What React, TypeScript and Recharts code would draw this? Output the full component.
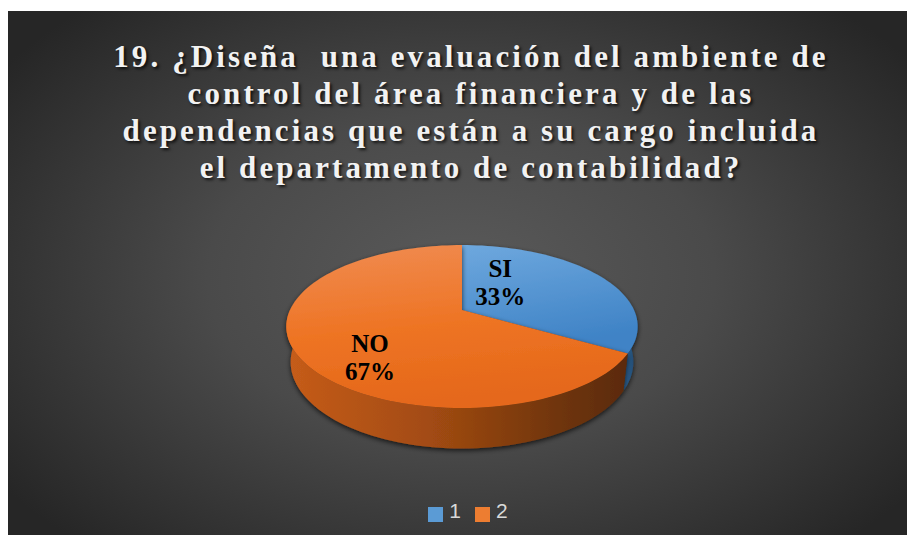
import { PieChart, Pie, Cell, Legend } from "recharts";

const categories = ["1", "2"];
const answers = ["SI", "NO"];
const values = [1, 2];
const percentLabels = ["33%", "67%"];

const titleLines = [
  "19. ¿Diseña  una evaluación del ambiente de",
  "control del área financiera y de las",
  "dependencias que están a su cargo incluida",
  "el departamento de contabilidad?",
];

const colors = ["#5b9bd5", "#ed7d31"];

const data = categories.map((c, i) => ({ cat: c, answer: answers[i], value: values[i], pct: percentLabels[i] }));

// 3d view of the pie: tilt, camera distance, thickness
const TILT = (27 * Math.PI) / 180;
const DIST = 755;
const THICK = 40;
const RAD = Math.PI / 180;

function proj(cx: number, cy: number, X: number, Y: number, Z: number) {
  const s = Math.sin(TILT);
  const c = Math.cos(TILT);
  const depth = Z * c - Y * s;
  const up = Z * s + Y * c;
  const k = DIST / (DIST + depth);
  return [cx + X * k, cy - up * k];
}

function arcPts(cx: number, cy: number, r: number, from: number, to: number, Y: number) {
  const pts: number[][] = [];
  const n = Math.max(2, Math.ceil(Math.abs(to - from) / 2));
  for (let i = 0; i <= n; i++) {
    const a = (from + ((to - from) * i) / n) * RAD;
    pts.push(proj(cx, cy, r * Math.cos(a), Y, r * Math.sin(a)));
  }
  return pts;
}

const toPath = (pts: number[][]) => pts.map((p, i) => `${i ? "L" : "M"}${p[0].toFixed(2)},${p[1].toFixed(2)}`).join(" ");

function Slice3D(props: any) {
  const { cx, cy, outerRadius, startAngle, endAngle, index } = props;
  const r = outerRadius;
  const hi = Math.max(startAngle, endAngle);
  const lo = Math.min(startAngle, endAngle);

  // front wall pieces (where the rim faces the viewer)
  const walls: string[] = [];
  for (let k = -2; k <= 1; k++) {
    const a = Math.max(lo, k * 360 - 180);
    const b = Math.min(hi, k * 360);
    if (b > a) {
      const top = arcPts(cx, cy, r, a, b, 0);
      const bot = arcPts(cx, cy, r, b, a, -THICK);
      walls.push(toPath([...top, ...bot]) + " Z");
    }
  }

  const c0 = proj(cx, cy, 0, 0, 0);
  const topFace = toPath([c0, ...arcPts(cx, cy, r, startAngle, endAngle, 0)]) + " Z";

  return (
    <g filter="url(#pieShadow)">
      {walls.map((d, i) => (
        <path key={i} d={d} fill={`url(#side${index})`} />
      ))}
      <path d={topFace} fill={`url(#top${index})`} />
    </g>
  );
}

function renderLabel(props: any) {
  const { cx, cy, outerRadius, midAngle, index } = props;
  const a = midAngle * RAD;
  const r = outerRadius;
  const [x, y] = proj(cx, cy, 0.42 * r * Math.cos(a) - 0.12 * r, 0, 0.95 * r * Math.sin(a));
  return (
    <text
      x={x}
      y={y}
      textAnchor="middle"
      fontFamily="'Liberation Serif', 'Times New Roman', serif"
      fontWeight="bold"
      fontSize={25}
      fill="#000"
    >
      <tspan x={x} dy={1}>{data[index].answer}</tspan>
      <tspan x={x} dy={28}>{data[index].pct}</tspan>
    </text>
  );
}

export default function App() {
  return (
    <div style={{ position: "relative", width: 915, height: 543, margin: -8, background: "#fff", overflow: "hidden" }}>
      <div
        style={{
          position: "absolute",
          left: 7,
          top: 11,
          width: 908,
          height: 532,
          background: "radial-gradient(ellipse 62% 68% at 50% 50%, #5a5a5a 0%, #4a4a4a 45%, #262626 100%)",
        }}
      >
        <div
          style={{
            position: "absolute",
            left: 10,
            top: 27,
            width: 908,
            textAlign: "center",
            fontFamily: "'Liberation Serif', 'Times New Roman', serif",
            fontWeight: "bold",
            fontSize: 31,
            lineHeight: "37px",
            letterSpacing: 3.1,
            color: "#f2f2f2",
            textShadow: "2px 2px 3px rgba(0,0,0,0.75)",
            whiteSpace: "pre",
          }}
        >
          {titleLines.map((l, i) => (
            <div key={i}>{l}</div>
          ))}
        </div>
        <PieChart
          width={908}
          height={532}
          margin={{ top: 0, right: 0, bottom: 0, left: 0 }}
          style={{ position: "absolute", left: 0, top: 0 }}
        >
          <defs>
            <linearGradient id="top0" x1="0" y1="0" x2="0.3" y2="1">
              <stop offset="0%" stopColor="#6ea8de" />
              <stop offset="100%" stopColor="#3f83c6" />
            </linearGradient>
            <linearGradient id="top1" x1="0" y1="0" x2="0.2" y2="1">
              <stop offset="0%" stopColor="#f08c52" />
              <stop offset="55%" stopColor="#ee7424" />
              <stop offset="100%" stopColor="#e5681a" />
            </linearGradient>
            <linearGradient id="side0" x1="0" y1="0" x2="1" y2="0">
              <stop offset="0%" stopColor="#2f6497" />
              <stop offset="100%" stopColor="#1f4468" />
            </linearGradient>
            <linearGradient id="side1" x1="280" y1="0" x2="640" y2="0" gradientUnits="userSpaceOnUse">
              <stop offset="0%" stopColor="#c65c1a" />
              <stop offset="40%" stopColor="#a24b12" />
              <stop offset="75%" stopColor="#70350d" />
              <stop offset="100%" stopColor="#552709" />
            </linearGradient>
            <filter id="pieShadow" x="-20%" y="-20%" width="140%" height="150%">
              <feDropShadow dx="0" dy="2" stdDeviation="2.5" floodColor="#000" floodOpacity="0.7" />
            </filter>
          </defs>
          <Pie
            data={data}
            dataKey="value"
            nameKey="cat"
            cx={455}
            cy={299}
            outerRadius={172}
            startAngle={90}
            endAngle={-270}
            stroke="none"
            shape={Slice3D}
            label={renderLabel}
            labelLine={false}
            isAnimationActive={false}
          >
            {data.map((d, i) => (
              <Cell key={d.cat} fill={colors[i]} />
            ))}
          </Pie>
          <Legend
            verticalAlign="bottom"
            iconType="square"
            iconSize={15}
            wrapperStyle={{ top: 488, left: 14, width: 908 }}
            formatter={(v: any) => (
              <span
                style={{
                  color: "#d9d9d9",
                  fontSize: 21,
                  fontFamily: "'Liberation Sans', sans-serif",
                  marginLeft: 2,
                  marginRight: 4,
                }}
              >
                {v}
              </span>
            )}
          />
        </PieChart>
      </div>
    </div>
  );
}
